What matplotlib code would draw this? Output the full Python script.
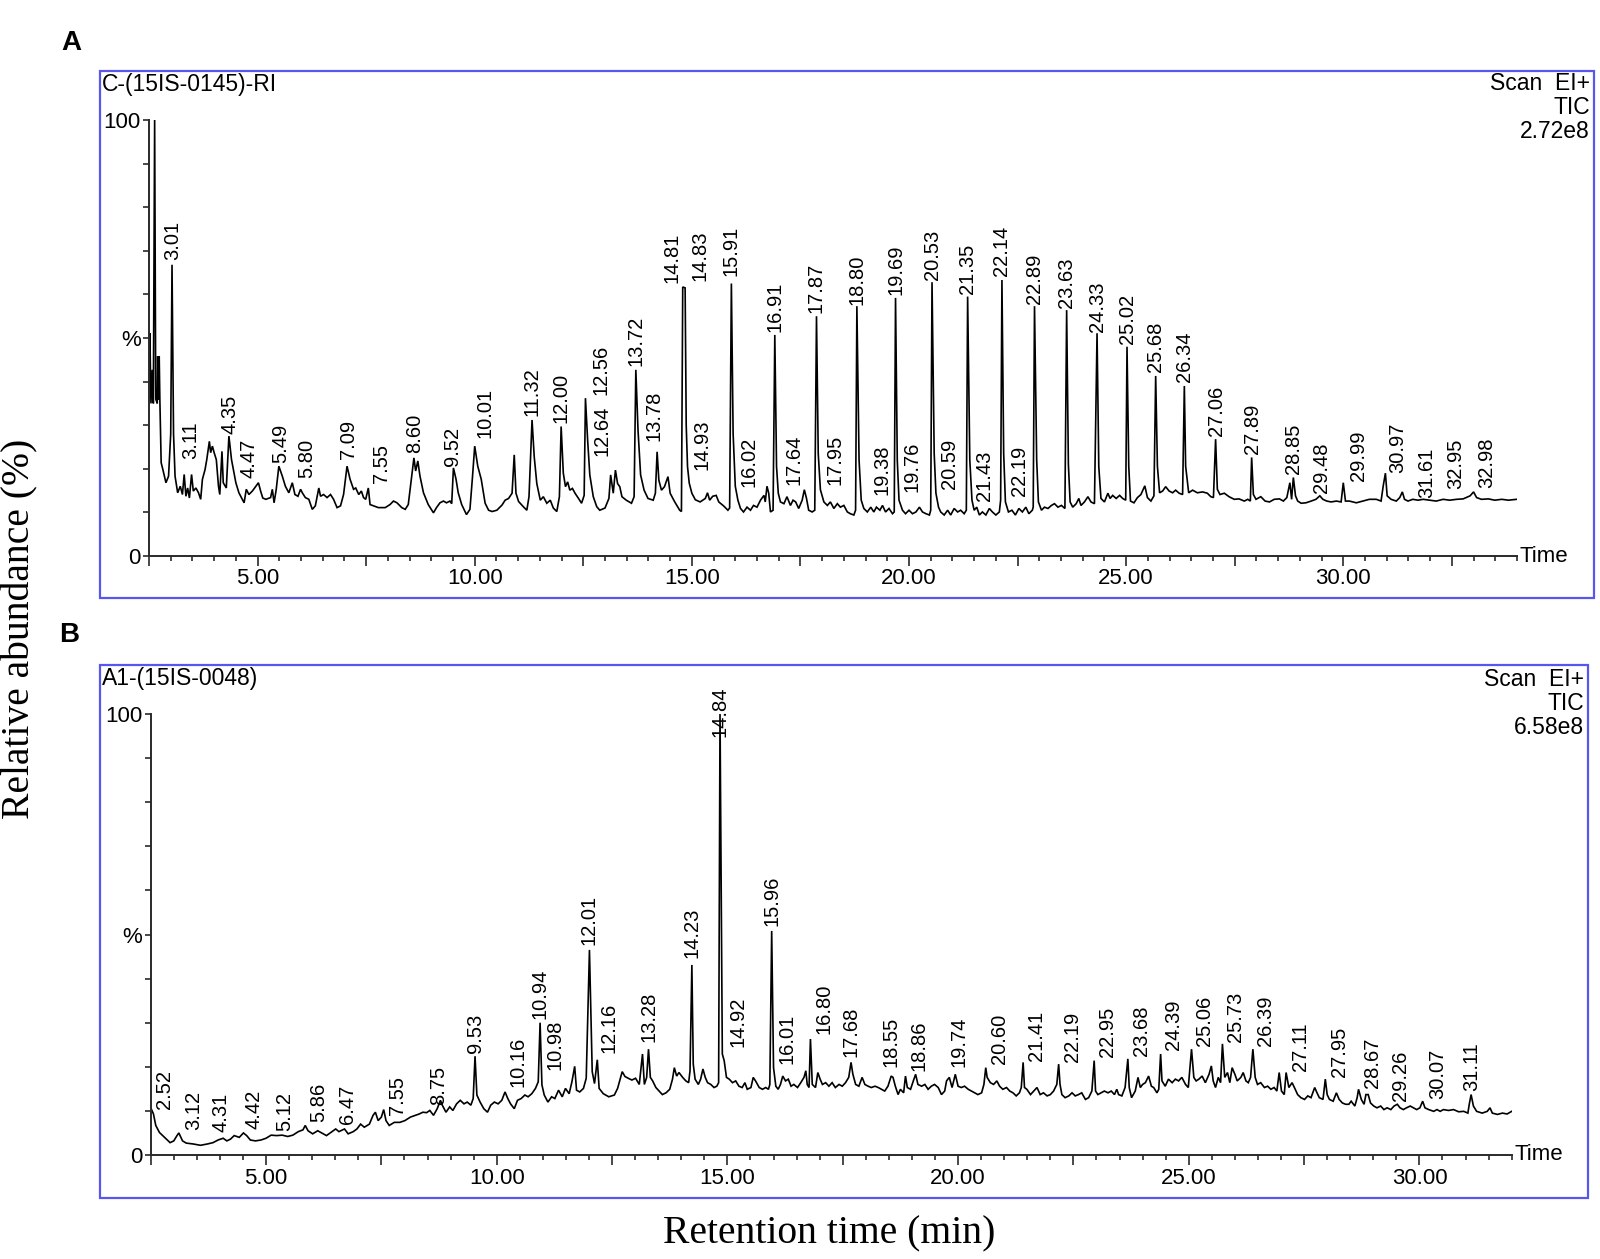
import matplotlib
matplotlib.use("Agg")
import numpy as np
import matplotlib.pyplot as plt
from matplotlib.patches import Rectangle
from matplotlib.ticker import MultipleLocator

plt.rcParams["font.family"] = ["Liberation Sans", "DejaVu Sans"]

# panel A trace: (retention time min, relative abundance %)
a_trace = [
    (2.50, 40.0), (2.52, 51.1), (2.545, 35.0), (2.575, 42.7), (2.60, 35.0), (2.63, 100.0),
    (2.655, 36.0), (2.69, 35.0), (2.70, 45.8), (2.72, 35.9), (2.735, 45.8),
    (2.75, 35.9), (2.78, 21.4), (2.82, 19.8), (2.89, 16.8), (2.95, 18.3), (3.00, 28.0),
    (3.03, 66.8), (3.065, 28.0), (3.10, 18.3), (3.16, 14.5), (3.22, 16.0), (3.27, 14.1),
    (3.31, 18.7), (3.35, 13.7), (3.39, 15.6), (3.43, 13.3), (3.48, 18.7), (3.52, 14.9),
    (3.58, 15.6), (3.64, 14.5), (3.69, 13.0), (3.73, 17.6), (3.79, 19.8), (3.83, 22.1),
    (3.89, 26.3), (3.92, 23.7), (3.96, 25.2), (4.00, 23.7), (4.05, 22.1), (4.10, 16.0),
    (4.13, 14.1), (4.18, 24.0), (4.21, 16.8), (4.28, 15.6), (4.34, 27.5), (4.40, 22.1),
    (4.50, 16.8), (4.57, 14.5), (4.69, 12.2), (4.74, 15.3), (4.80, 14.1), (4.88, 14.9),
    (4.96, 16.0), (5.02, 16.8), (5.07, 14.9), (5.12, 13.3), (5.19, 13.0), (5.30, 13.4),
    (5.34, 15.3), (5.38, 12.2), (5.43, 15.3), (5.49, 20.6), (5.57, 18.3), (5.64, 16.0),
    (5.72, 14.5), (5.80, 16.8), (5.86, 14.1), (5.93, 13.7), (5.99, 15.3), (6.03, 14.5),
    (6.10, 13.4), (6.18, 13.0), (6.26, 10.7), (6.33, 11.5), (6.41, 15.6), (6.45, 13.7),
    (6.52, 14.1), (6.60, 13.4), (6.68, 14.1), (6.75, 13.0), (6.83, 11.1), (6.91, 11.5),
    (6.98, 14.1), (7.06, 20.6), (7.13, 17.6), (7.21, 15.3), (7.26, 15.6), (7.33, 14.1),
    (7.39, 14.9), (7.44, 13.4), (7.49, 13.0), (7.55, 15.6), (7.59, 11.8), (7.67, 11.5),
    (7.78, 11.1), (7.94, 11.1), (8.05, 11.8), (8.13, 12.6), (8.21, 12.2), (8.32, 11.1),
    (8.40, 10.7), (8.47, 11.8), (8.55, 18.3), (8.60, 22.5), (8.64, 19.5), (8.69, 21.8),
    (8.74, 18.3), (8.82, 14.5), (8.93, 11.8), (9.05, 9.9), (9.12, 11.1), (9.20, 12.2),
    (9.28, 12.6), (9.35, 12.2), (9.43, 12.6), (9.47, 12.0), (9.51, 20.2), (9.57, 17.6),
    (9.62, 14.5), (9.70, 11.8), (9.81, 9.5), (9.89, 10.7), (9.95, 18.3), (10.00, 25.2),
    (10.07, 20.6), (10.15, 17.6), (10.24, 12.1), (10.32, 10.5), (10.40, 10.2), (10.51, 10.5),
    (10.63, 11.7), (10.70, 12.8), (10.78, 13.2), (10.86, 14.4), (10.91, 23.2), (10.95, 14.4),
    (11.01, 12.5), (11.12, 11.3), (11.20, 10.5), (11.25, 13.6), (11.32, 31.2), (11.37, 22.8),
    (11.43, 16.6), (11.51, 12.8), (11.58, 13.6), (11.66, 12.1), (11.74, 12.8), (11.81, 11.0),
    (11.89, 10.2), (11.95, 13.6), (11.99, 29.7), (12.04, 19.0), (12.09, 15.9), (12.14, 17.0),
    (12.19, 15.1), (12.25, 15.5), (12.31, 14.4), (12.39, 13.2), (12.46, 12.1), (12.52, 13.9),
    (12.55, 36.2), (12.60, 26.6), (12.65, 18.6), (12.73, 13.6), (12.81, 11.3), (12.88, 10.5),
    (13.00, 11.0), (13.09, 13.2), (13.13, 18.6), (13.19, 14.4), (13.24, 19.7), (13.29, 16.6),
    (13.34, 15.9), (13.39, 13.6), (13.49, 12.8), (13.61, 12.1), (13.67, 13.6), (13.71, 42.7),
    (13.76, 28.9), (13.82, 18.6), (13.90, 15.1), (13.99, 13.2), (14.11, 12.8), (14.16, 14.4),
    (14.20, 23.9), (14.24, 17.4), (14.30, 15.1), (14.37, 15.9), (14.45, 18.2), (14.50, 14.4),
    (14.60, 12.5), (14.72, 10.5), (14.76, 10.2), (14.79, 61.7), (14.845, 61.5), (14.87, 30.0),
    (14.90, 20.5), (14.94, 16.7), (15.00, 14.4), (15.08, 12.9), (15.19, 12.4), (15.31, 13.2),
    (15.36, 14.5), (15.41, 12.8), (15.48, 13.7), (15.56, 13.9), (15.62, 12.4), (15.73, 11.5),
    (15.83, 10.5), (15.87, 11.0), (15.91, 62.5), (15.95, 28.1), (16.00, 16.0), (16.06, 12.8),
    (16.12, 10.9), (16.19, 10.1), (16.27, 11.2), (16.35, 10.5), (16.42, 11.6), (16.50, 11.2),
    (16.58, 12.8), (16.66, 13.9), (16.69, 12.4), (16.73, 16.0), (16.77, 14.4), (16.81, 10.1),
    (16.87, 10.5), (16.91, 50.7), (16.95, 20.5), (16.99, 14.4), (17.04, 12.4), (17.12, 12.0),
    (17.19, 13.6), (17.27, 11.6), (17.33, 12.8), (17.39, 12.4), (17.46, 10.9), (17.54, 12.8),
    (17.59, 15.2), (17.64, 13.2), (17.69, 10.5), (17.77, 10.1), (17.83, 10.5), (17.87, 55.0),
    (17.91, 23.5), (17.96, 15.2), (18.04, 12.4), (18.12, 11.6), (18.19, 12.4), (18.27, 10.9),
    (18.35, 12.0), (18.42, 11.2), (18.50, 11.6), (18.58, 10.1), (18.65, 9.7), (18.73, 9.4),
    (18.77, 10.5), (18.80, 57.3), (18.85, 22.0), (18.90, 12.8), (18.96, 10.9), (19.04, 10.1),
    (19.12, 11.2), (19.19, 10.1), (19.25, 11.2), (19.33, 10.5), (19.39, 11.6), (19.46, 10.1),
    (19.54, 10.9), (19.62, 9.7), (19.66, 10.1), (19.69, 59.2), (19.73, 22.0), (19.77, 12.8),
    (19.85, 10.5), (19.92, 9.7), (20.00, 10.5), (20.08, 9.7), (20.16, 10.1), (20.24, 11.2),
    (20.31, 10.1), (20.39, 9.7), (20.47, 9.4), (20.50, 10.5), (20.53, 62.8), (20.58, 23.5),
    (20.62, 14.4), (20.68, 11.2), (20.73, 10.1), (20.81, 9.4), (20.89, 10.5), (20.96, 9.4),
    (21.04, 10.9), (21.12, 10.1), (21.19, 10.5), (21.27, 9.7), (21.32, 10.5), (21.35, 59.5),
    (21.40, 22.0), (21.45, 12.8), (21.50, 10.5), (21.56, 11.2), (21.62, 9.4), (21.69, 10.1),
    (21.77, 9.4), (21.85, 10.9), (21.92, 10.1), (22.00, 9.4), (22.08, 10.1), (22.11, 12.8),
    (22.14, 63.3), (22.18, 23.5), (22.22, 12.4), (22.29, 10.1), (22.37, 10.5), (22.45, 9.4),
    (22.53, 10.9), (22.61, 10.1), (22.69, 11.2), (22.76, 9.7), (22.84, 10.5), (22.86, 11.2),
    (22.89, 57.3), (22.94, 22.0), (22.98, 12.4), (23.05, 10.5), (23.12, 11.2), (23.20, 10.9),
    (23.28, 11.6), (23.35, 12.0), (23.43, 11.2), (23.51, 11.6), (23.59, 10.9), (23.63, 56.4),
    (23.67, 21.0), (23.71, 12.4), (23.77, 11.2), (23.85, 12.0), (23.91, 13.2), (23.96, 11.6),
    (24.04, 12.4), (24.12, 13.6), (24.19, 12.4), (24.27, 12.0), (24.33, 51.1), (24.37, 20.5),
    (24.42, 13.2), (24.50, 12.4), (24.58, 14.4), (24.63, 13.2), (24.69, 13.9), (24.77, 13.2),
    (24.85, 13.9), (24.92, 13.2), (24.99, 12.8), (25.02, 48.0), (25.06, 20.6), (25.10, 12.6),
    (25.18, 12.2), (25.26, 13.4), (25.34, 14.1), (25.43, 16.1), (25.49, 13.4), (25.57, 12.6),
    (25.64, 13.8), (25.68, 41.3), (25.72, 20.6), (25.77, 14.5), (25.84, 14.9), (25.91, 15.9),
    (25.99, 14.9), (26.07, 14.5), (26.14, 15.1), (26.22, 14.4), (26.30, 14.1), (26.34, 39.0),
    (26.37, 20.6), (26.44, 14.5), (26.53, 15.1), (26.64, 14.5), (26.76, 14.7), (26.87, 14.4),
    (26.95, 13.6), (27.01, 13.4), (27.06, 26.8), (27.10, 15.3), (27.16, 14.1), (27.26, 14.4),
    (27.37, 13.6), (27.49, 13.0), (27.60, 13.1), (27.72, 12.6), (27.80, 13.0), (27.86, 12.6),
    (27.89, 22.6), (27.93, 14.1), (27.99, 13.0), (28.10, 13.6), (28.20, 12.6), (28.30, 12.4),
    (28.41, 13.0), (28.53, 13.1), (28.62, 12.6), (28.70, 13.4), (28.77, 16.8), (28.81, 13.0),
    (28.85, 18.0), (28.90, 13.8), (28.95, 12.6), (29.03, 12.1), (29.14, 12.2), (29.26, 12.6),
    (29.37, 13.0), (29.46, 13.8), (29.53, 13.0), (29.62, 12.6), (29.72, 12.4), (29.84, 12.6),
    (29.95, 12.4), (30.00, 16.8), (30.05, 12.6), (30.14, 12.6), (30.30, 12.2), (30.45, 12.6),
    (30.60, 13.0), (30.76, 13.0), (30.87, 12.6), (30.92, 16.1), (30.97, 19.0), (31.01, 13.8),
    (31.10, 13.0), (31.22, 12.6), (31.30, 13.4), (31.36, 14.7), (31.41, 13.0), (31.49, 12.6),
    (31.60, 13.0), (31.72, 12.8), (31.84, 13.0), (31.99, 12.8), (32.14, 12.6), (32.30, 13.0),
    (32.45, 12.8), (32.61, 13.0), (32.76, 13.1), (32.92, 13.8), (33.00, 14.7), (33.07, 13.4),
    (33.18, 13.0), (33.34, 13.1), (33.49, 12.8), (33.65, 13.0), (33.80, 12.8), (33.99, 13.0),
]

# panel B trace: (retention time min, relative abundance %)
b_trace = [
    (2.51, 10.5), (2.56, 9.3), (2.61, 6.7), (2.69, 5.1), (2.80, 4.0), (2.92, 2.8),
    (3.00, 3.2), (3.07, 4.4), (3.11, 5.0), (3.19, 3.2), (3.27, 2.7), (3.42, 2.5),
    (3.58, 2.2), (3.73, 2.5), (3.85, 2.8), (3.96, 3.4), (4.07, 3.8), (4.15, 3.2),
    (4.23, 3.6), (4.31, 4.4), (4.42, 4.0), (4.51, 5.0), (4.58, 4.4), (4.66, 3.4),
    (4.77, 3.2), (4.89, 3.4), (5.00, 3.8), (5.11, 4.5), (5.23, 4.4), (5.35, 4.5),
    (5.47, 4.2), (5.58, 4.5), (5.70, 5.3), (5.80, 5.7), (5.85, 6.7), (5.91, 5.5),
    (6.01, 4.8), (6.12, 5.5), (6.24, 4.8), (6.31, 4.4), (6.43, 5.3), (6.51, 5.9),
    (6.58, 5.3), (6.70, 5.9), (6.78, 4.8), (6.89, 5.3), (6.97, 5.9), (7.05, 7.0),
    (7.13, 6.3), (7.24, 7.0), (7.32, 9.0), (7.37, 9.7), (7.43, 7.8), (7.50, 8.6),
    (7.55, 10.3), (7.60, 7.8), (7.67, 6.7), (7.78, 7.4), (7.90, 7.4), (8.01, 7.8),
    (8.13, 8.6), (8.24, 9.0), (8.32, 9.3), (8.40, 9.7), (8.48, 9.6), (8.55, 10.1),
    (8.63, 9.0), (8.71, 10.5), (8.78, 12.4), (8.82, 11.3), (8.90, 9.7), (8.98, 10.9),
    (9.05, 10.1), (9.13, 11.6), (9.21, 12.4), (9.29, 11.6), (9.36, 12.0), (9.44, 11.3),
    (9.49, 12.8), (9.53, 22.4), (9.57, 13.6), (9.64, 12.0), (9.72, 10.5), (9.80, 9.7),
    (9.87, 11.3), (9.95, 12.0), (10.03, 11.6), (10.11, 12.4), (10.18, 14.3), (10.24, 12.8),
    (10.30, 11.6), (10.38, 10.5), (10.45, 12.4), (10.53, 12.8), (10.61, 13.6), (10.68, 13.2),
    (10.76, 13.9), (10.84, 15.1), (10.90, 16.6), (10.94, 30.0), (10.98, 15.9), (11.03, 13.6),
    (11.11, 12.0), (11.19, 13.2), (11.26, 12.8), (11.34, 14.7), (11.42, 13.2), (11.49, 15.1),
    (11.57, 13.9), (11.63, 16.6), (11.69, 20.1), (11.73, 14.7), (11.80, 14.3), (11.88, 15.1),
    (11.94, 17.4), (12.01, 46.5), (12.07, 18.9), (12.12, 16.2), (12.18, 21.6), (12.22, 15.1),
    (12.31, 13.9), (12.43, 13.2), (12.55, 13.6), (12.62, 15.1), (12.72, 18.9), (12.78, 17.8),
    (12.85, 17.4), (12.93, 17.0), (13.01, 17.4), (13.09, 16.0), (13.16, 22.9), (13.20, 16.0),
    (13.25, 17.6), (13.29, 24.0), (13.33, 17.6), (13.38, 16.8), (13.45, 15.3), (13.52, 14.5),
    (13.59, 13.7), (13.67, 14.1), (13.75, 14.9), (13.81, 17.2), (13.85, 19.8), (13.90, 17.9),
    (13.95, 18.7), (14.03, 17.6), (14.10, 16.8), (14.16, 16.4), (14.19, 19.1), (14.23, 43.1),
    (14.26, 20.6), (14.30, 17.2), (14.37, 16.0), (14.42, 17.2), (14.47, 19.5), (14.52, 17.6),
    (14.57, 16.4), (14.64, 16.0), (14.71, 15.3), (14.77, 15.6), (14.81, 16.4), (14.84, 100.0),
    (14.89, 22.9), (14.93, 21.4), (14.98, 17.6), (15.04, 17.2), (15.11, 16.4), (15.18, 16.8),
    (15.25, 15.6), (15.32, 15.3), (15.38, 16.4), (15.43, 14.9), (15.51, 15.3), (15.56, 17.6),
    (15.61, 16.8), (15.69, 15.3), (15.76, 14.9), (15.83, 15.3), (15.89, 14.9), (15.92, 16.0),
    (15.96, 50.8), (16.00, 19.8), (16.05, 15.6), (16.10, 14.9), (16.15, 16.0), (16.20, 17.9),
    (16.26, 16.8), (16.32, 17.2), (16.38, 15.6), (16.44, 16.0), (16.52, 15.3), (16.59, 16.4),
    (16.66, 17.6), (16.70, 19.1), (16.73, 16.0), (16.77, 15.3), (16.80, 26.3), (16.84, 16.0),
    (16.91, 15.3), (16.96, 18.7), (17.01, 17.2), (17.06, 16.0), (17.13, 16.4), (17.20, 15.6),
    (17.27, 16.4), (17.34, 15.3), (17.42, 16.0), (17.49, 15.6), (17.56, 16.4), (17.63, 17.6),
    (17.68, 21.0), (17.72, 18.3), (17.78, 16.0), (17.85, 15.6), (17.92, 17.6), (17.98, 16.0),
    (18.05, 15.6), (18.12, 15.3), (18.20, 15.6), (18.27, 15.3), (18.34, 14.9), (18.41, 14.5),
    (18.48, 15.6), (18.55, 17.9), (18.59, 17.6), (18.64, 15.6), (18.70, 13.7), (18.75, 14.9),
    (18.82, 14.1), (18.86, 17.9), (18.90, 15.3), (18.97, 14.9), (19.03, 16.8), (19.08, 18.3),
    (19.13, 16.0), (19.21, 15.6), (19.28, 16.0), (19.35, 14.9), (19.42, 15.6), (19.49, 16.0),
    (19.57, 15.3), (19.64, 13.7), (19.71, 14.5), (19.75, 16.8), (19.81, 17.6), (19.87, 15.3),
    (19.94, 18.3), (20.00, 15.6), (20.07, 15.3), (20.14, 15.6), (20.22, 14.9), (20.29, 14.5),
    (20.36, 14.1), (20.43, 13.7), (20.51, 14.1), (20.56, 16.0), (20.60, 19.8), (20.63, 17.6),
    (20.70, 16.4), (20.77, 16.0), (20.84, 16.8), (20.90, 15.6), (20.97, 14.9), (21.05, 15.3),
    (21.12, 14.5), (21.19, 14.1), (21.26, 13.4), (21.33, 14.1), (21.37, 15.3), (21.41, 21.0),
    (21.44, 15.3), (21.49, 14.9), (21.57, 13.7), (21.64, 14.5), (21.71, 15.3), (21.78, 13.7),
    (21.85, 14.1), (21.93, 13.4), (22.00, 13.7), (22.07, 14.5), (22.14, 16.0), (22.18, 20.6),
    (22.21, 16.0), (22.25, 13.7), (22.32, 13.0), (22.40, 13.4), (22.47, 14.1), (22.54, 13.4),
    (22.61, 13.7), (22.68, 14.1), (22.76, 12.6), (22.83, 13.0), (22.90, 14.5), (22.95, 21.4),
    (22.98, 14.5), (23.03, 13.7), (23.10, 14.1), (23.17, 14.5), (23.25, 14.1), (23.32, 14.5),
    (23.39, 13.7), (23.44, 14.9), (23.48, 13.7), (23.55, 13.4), (23.62, 15.3), (23.68, 21.8),
    (23.71, 15.3), (23.76, 13.0), (23.84, 14.5), (23.90, 17.6), (23.95, 15.3), (24.00, 16.0),
    (24.06, 16.4), (24.13, 17.9), (24.19, 15.6), (24.24, 15.3), (24.31, 14.1), (24.35, 14.9),
    (24.39, 22.9), (24.42, 16.8), (24.49, 15.6), (24.56, 17.2), (24.64, 16.4), (24.71, 17.2),
    (24.78, 16.8), (24.85, 17.6), (24.93, 16.0), (24.99, 15.3), (25.06, 24.0), (25.11, 17.6),
    (25.16, 16.8), (25.22, 17.2), (25.29, 17.9), (25.36, 16.4), (25.44, 18.3), (25.49, 20.2),
    (25.53, 16.8), (25.58, 15.3), (25.64, 17.6), (25.69, 16.4), (25.73, 25.2), (25.78, 17.6),
    (25.84, 18.7), (25.89, 16.4), (25.94, 19.8), (26.00, 18.3), (26.05, 16.8), (26.13, 17.6),
    (26.18, 18.7), (26.24, 16.8), (26.29, 16.4), (26.34, 17.6), (26.39, 24.0), (26.44, 17.6),
    (26.49, 16.0), (26.56, 16.4), (26.64, 15.3), (26.71, 15.6), (26.78, 14.9), (26.85, 15.3),
    (26.91, 14.5), (26.96, 18.7), (27.01, 14.5), (27.07, 13.7), (27.11, 18.7), (27.17, 15.3),
    (27.24, 16.4), (27.29, 15.3), (27.36, 13.7), (27.43, 13.0), (27.51, 12.6), (27.58, 13.4),
    (27.65, 13.0), (27.73, 15.3), (27.78, 14.1), (27.83, 13.0), (27.91, 12.6), (27.96, 17.2),
    (28.00, 13.7), (28.05, 12.6), (28.13, 12.2), (28.20, 14.1), (28.26, 12.6), (28.33, 11.8),
    (28.40, 11.5), (28.47, 11.5), (28.52, 12.2), (28.60, 11.1), (28.65, 13.0), (28.68, 14.9),
    (28.74, 12.6), (28.80, 11.5), (28.84, 13.7), (28.89, 13.7), (28.94, 11.8), (29.01, 11.1),
    (29.08, 10.7), (29.16, 11.1), (29.23, 10.3), (29.30, 10.7), (29.38, 10.3), (29.45, 11.1),
    (29.52, 11.5), (29.58, 10.7), (29.65, 10.3), (29.72, 10.7), (29.80, 11.1), (29.87, 10.7),
    (29.94, 10.3), (30.01, 10.7), (30.07, 12.2), (30.12, 10.7), (30.20, 10.3), (30.31, 9.9),
    (30.38, 10.3), (30.45, 9.9), (30.52, 10.3), (30.63, 10.1), (30.74, 10.3), (30.85, 9.8),
    (30.96, 9.9), (31.05, 9.5), (31.08, 11.5), (31.12, 13.7), (31.17, 11.1), (31.24, 9.9),
    (31.36, 9.5), (31.47, 9.9), (31.53, 10.7), (31.58, 9.5), (31.69, 9.2), (31.80, 9.5),
    (31.90, 9.3), (32.00, 9.9),
]

# peak labels (retention times printed on the chart)
a_labels = ["3.01", "3.11", "4.35", "4.47", "5.49", "5.80", "7.09", "7.55", "8.60", "9.52",
            "10.01", "11.32", "12.00", "12.56", "12.64", "13.72", "13.78", "14.81", "14.83",
            "14.93", "15.91", "16.02", "16.91", "17.64", "17.87", "17.95", "18.80", "19.38",
            "19.69", "19.76", "20.53", "20.59", "21.35", "21.43", "22.14", "22.19", "22.89",
            "23.63", "24.33", "25.02", "25.68", "26.34", "27.06", "27.89", "28.85", "29.48",
            "29.99", "30.97", "31.61", "32.95", "32.98"]
b_labels = ["2.52", "3.12", "4.31", "4.42", "5.12", "5.86", "6.47", "7.55", "8.75", "9.53",
            "10.16", "10.94", "10.98", "12.01", "12.16", "13.28", "14.23", "14.84", "14.92",
            "15.96", "16.01", "16.80", "17.68", "18.55", "18.86", "19.74", "20.60", "21.41",
            "22.19", "22.95", "23.68", "24.39", "25.06", "25.73", "26.39", "27.11", "27.95",
            "28.67", "29.26", "30.07", "31.11"]

# where each label sits (x in min, y of label foot in %)
a_label_x = [3.04, 3.46, 4.36, 4.80, 5.53, 6.14, 7.10, 7.85, 8.61, 9.50,
             10.23, 11.33, 11.99, 12.91, 12.92, 13.72, 14.13, 14.54, 15.19,
             15.23, 15.91, 16.31, 16.91, 17.35, 17.87, 18.29, 18.80, 19.37,
             19.69, 20.08, 20.53, 20.93, 21.35, 21.73, 22.14, 22.54, 22.89,
             23.63, 24.33, 25.02, 25.67, 26.34, 27.07, 27.90, 28.85, 29.49,
             30.34, 31.26, 31.91, 32.60, 33.30]
a_label_y = [67.5, 21.8, 27.5, 17.6, 21.0, 17.6, 21.8, 16.4, 23.3, 20.2,
             26.7, 31.8, 30.2, 36.5, 22.5, 43.2, 25.9, 62.2, 62.6,
             19.3, 63.8, 15.4, 50.9, 15.8, 55.4, 15.8, 57.2, 13.5,
             59.4, 14.3, 62.9, 15.0, 59.6, 12.2, 63.8, 13.3, 57.5,
             56.4, 51.0, 48.2, 41.7, 39.4, 27.1, 22.9, 18.3, 14.1,
             16.8, 18.7, 13.0, 14.9, 15.3]
b_label_x = [2.80, 3.43, 4.03, 4.73, 5.40, 6.14, 6.77, 7.85, 8.75, 9.55,
             10.46, 10.94, 11.27, 12.01, 12.43, 13.30, 14.23, 14.84, 15.22,
             15.96, 16.30, 17.09, 17.69, 18.54, 19.15, 20.03, 20.89, 21.71,
             22.48, 23.24, 23.98, 24.67, 25.35, 26.02, 26.67, 27.43, 28.26,
             28.98, 29.58, 30.39, 31.14]
b_label_y = [10.1, 5.2, 4.8, 5.5, 5.1, 7.0, 6.7, 8.6, 10.9, 22.8,
             15.1, 30.4, 18.9, 47.3, 22.8, 25.2, 44.3, 94.3, 24.0,
             51.5, 20.2, 27.1, 21.8, 19.5, 18.7, 19.5, 20.2, 21.0,
             20.6, 21.8, 22.1, 23.3, 24.4, 25.2, 24.4, 18.7, 17.2,
             14.9, 11.8, 12.2, 14.1]

W, H = 1600, 1259
BLUE = "#5757ee"
AXC = "#2a2a2a"

fig = plt.figure(figsize=(W / 100, H / 100), dpi=100)


def rect(x0, y0, x1, y1):
    # pixel box -> figure fraction
    return [x0 / W, 1 - y1 / H, (x1 - x0) / W, (y1 - y0) / H]


def panel(box, axbox, trace, labels, lx, ly, xmax, name, scale, name_y):
    b = rect(*box)
    fig.add_artist(Rectangle((b[0], b[1]), b[2], b[3], transform=fig.transFigure,
                             fill=False, ec=BLUE, lw=1.6))
    ax = fig.add_axes(rect(*axbox))
    ax.patch.set_alpha(0)
    t = [p[0] for p in trace]
    v = [p[1] for p in trace]
    ax.plot(t, v, color="black", lw=1.2, solid_joinstyle="miter")
    ax.set_xlim(2.5, xmax)
    ax.set_ylim(0, 100)
    for s in ("top", "right"):
        ax.spines[s].set_visible(False)
    for s in ("left", "bottom"):
        ax.spines[s].set_color(AXC)
        ax.spines[s].set_linewidth(1.4)
    ax.spines["left"].set_bounds(0, 100)

    ax.set_yticks(range(0, 101, 10))
    ax.set_yticklabels(["0", "", "", "", "", "%", "", "", "", "", "100"])
    ax.tick_params(axis="y", direction="out", length=4.5, width=1.2, color=AXC,
                   labelsize=16, pad=1.5)
    major = np.arange(2.5, xmax + 0.01, 2.5)
    ax.set_xticks(major)
    ax.set_xticklabels([f"{m:.2f}" if m % 5 == 0 else "" for m in major])
    ax.xaxis.set_minor_locator(MultipleLocator(0.5))
    ax.tick_params(axis="x", which="major", direction="out", length=7, width=1.2,
                   color=AXC, labelsize=16, pad=2)
    ax.tick_params(axis="x", which="minor", direction="out", length=3.5, width=1.2,
                   color=AXC)

    for s, x, y in zip(labels, lx, ly):
        ax.text(x, y + 0.4, s, rotation=90, ha="center", va="bottom", fontsize=14.5)

    ax.annotate("Time", xy=(1, 0), xycoords="axes fraction", xytext=(2, 0),
                textcoords="offset points", ha="left", va="center", fontsize=16)

    # header texts inside the box
    fig.text((box[0] + 2) / W, 1 - name_y / H, name, ha="left", va="center", fontsize=16.5)
    for i, s in enumerate(["Scan  EI+", "TIC", scale]):
        fig.text((box[2] - 4) / W, 1 - (name_y + 24 * i) / H, s, ha="right",
                 va="center", fontsize=16.5)
    return ax


panel((99.5, 71, 1594, 598), (149, 120, 1517, 556), a_trace, a_labels, a_label_x,
      a_label_y, 34.0, "C-(15IS-0145)-RI", "2.72e8", 84)
panel((99.5, 665, 1588, 1198), (150.7, 714, 1511.7, 1155), b_trace, b_labels, b_label_x,
      b_label_y, 32.0, "A1-(15IS-0048)", "6.58e8", 679)

fig.text(71 / W, 1 - 43 / H, "A", fontsize=20, fontweight="bold", ha="center", va="center")
fig.text(69 / W, 1 - 635 / H, "B", fontsize=20, fontweight="bold", ha="center", va="center")
fig.text(20 / W, 1 - 629 / H, "Relative abundance (%)", rotation=90, ha="center",
         va="center", fontsize=28.5, family="Liberation Serif")
fig.text(829 / W, 1 - 1234 / H, "Retention time (min)", ha="center", va="center",
         fontsize=28.5, family="Liberation Serif")

fig.savefig("out.png", dpi=100)
